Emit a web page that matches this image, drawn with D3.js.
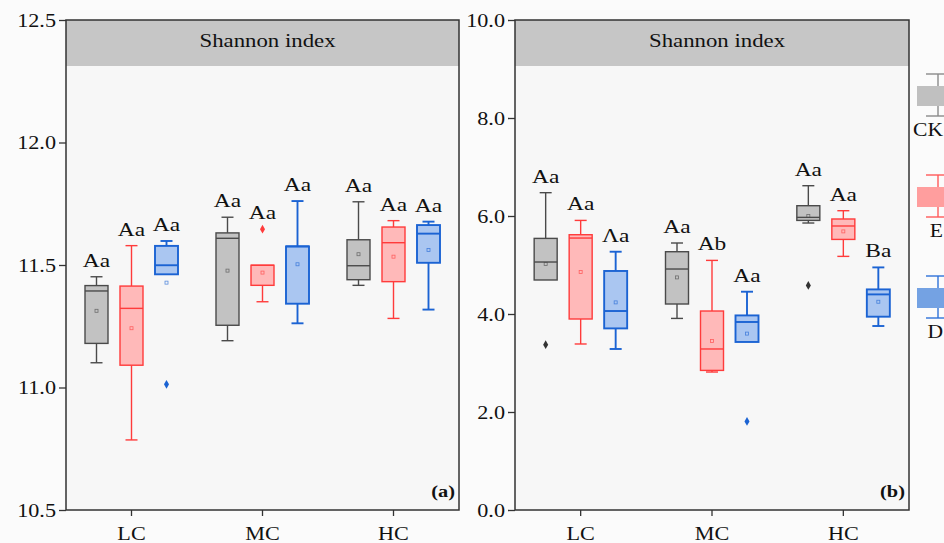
<!DOCTYPE html>
<html>
<head>
<meta charset="utf-8">
<script src="https://cdn.jsdelivr.net/npm/d3@7/dist/d3.min.js"></script>
<style>
  html, body { margin: 0; padding: 0; background: #fbfbfb; }
  svg { display: block; }
  text { font-family: "Liberation Serif", "Times New Roman", serif; fill: #111; }
</style>
</head>
<body>
<svg id="chart" width="944" height="543"></svg>
<script>
// Sites and treatments
const categories = ["LC", "MC", "HC"];
const groups = ["CK", "E", "D"];

// Box statistics per treatment, one entry per site:
// [lower whisker, Q1, median, Q3, upper whisker, mean]
const shannonA_CK = [[11.101, 11.180, 11.394, 11.416, 11.452, 11.313],
                     [11.191, 11.254, 11.609, 11.631, 11.695, 11.477],
                     [11.417, 11.440, 11.497, 11.603, 11.758, 11.544]];
const shannonA_E  = [[10.786, 11.091, 11.323, 11.414, 11.579, 11.242],
                     [11.350, 11.417, 11.499, 11.499, 11.499, 11.469],
                     [11.282, 11.432, 11.591, 11.655, 11.681, 11.534]];
const shannonA_D  = [[11.462, 11.462, 11.499, 11.578, 11.598, 11.428],
                     [11.262, 11.342, 11.576, 11.576, 11.761, 11.503],
                     [11.318, 11.509, 11.628, 11.663, 11.677, 11.561]];
// Outliers: [site, treatment, value]
const outliersA = [["LC", "D", 11.013], ["MC", "E", 11.646]];
const lettersA_CK = ["Aa", "Aa", "Aa"];
const lettersA_E  = ["Aa", "Aa", "Aa"];
const lettersA_D  = ["Aa", "Aa", "Aa"];

const shannonB_CK = [[4.694, 4.694, 5.061, 5.543, 6.476, 5.020],
                     [3.910, 4.204, 4.918, 5.271, 5.449, 4.747],
                     [5.857, 5.910, 5.972, 6.210, 6.618, 6.000]];
const shannonB_E  = [[3.388, 3.898, 5.550, 5.618, 5.910, 4.857],
                     [2.816, 2.849, 3.286, 4.061, 5.094, 3.450],
                     [5.176, 5.522, 5.796, 5.939, 6.108, 5.686]];
const shannonB_D  = [[3.286, 3.706, 4.061, 4.878, 5.271, 4.237],
                     [3.429, 3.429, 3.837, 3.971, 4.455, 3.600],
                     [3.755, 3.945, 4.400, 4.502, 4.951, 4.250]];
const outliersB = [["LC", "CK", 3.373], ["HC", "CK", 4.584], ["MC", "D", 1.808]];
const lettersB_CK = ["Aa", "Aa", "Aa"];
const lettersB_E  = ["Aa", "Ab", "Aa"];
const lettersB_D  = ["Λa", "Aa", "Ba"];

const ticksA = [10.5, 11.0, 11.5, 12.0, 12.5];
const ticksB = [0, 2, 4, 6, 8, 10];

const panelTitle = "Shannon index";

// Styling per treatment
const style = {
  CK: { fill: "#c2c2c2", stroke: "#4a4a4a", legendFill: "#c0c0c0", legendStroke: "#8a8a8a", sw: 1.4 },
  E:  { fill: "#ffb9b9", stroke: "#ff3b3b", legendFill: "#ff9e9e", legendStroke: "#ff5a5a", sw: 1.4 },
  D:  { fill: "#aac6f1", stroke: "#1b63d3", legendFill: "#74a2e3", legendStroke: "#2f72d8", sw: 1.9 }
};
const SX = 1.2; // horizontal text stretch

const svg = d3.select("#chart");

function stretched(g, x, y, str, opts = {}) {
  return g.append("text")
    .attr("transform", `translate(${x},${y}) scale(${SX},1)`)
    .attr("text-anchor", opts.anchor || "middle")
    .attr("font-size", opts.size || 18)
    .attr("font-weight", opts.weight || "normal")
    .text(str);
}

function drawPanel(cfg) {
  const g = svg.append("g");
  const x = d3.scaleBand().domain(categories).range([cfg.x0, cfg.x1]);
  const off = d3.scalePoint().domain(groups).range([-35, 35]);
  const y = d3.scaleLinear().domain(cfg.domain).range([510, 20]);
  const boxW = 23, capW = 12;

  // plot background
  g.append("rect").attr("x", cfg.x0).attr("y", 20)
    .attr("width", cfg.x1 - cfg.x0).attr("height", 490).attr("fill", "#f7f7f7");
  // header strip
  g.append("rect").attr("x", cfg.x0).attr("y", 20)
    .attr("width", cfg.x1 - cfg.x0).attr("height", 46).attr("fill", "#c6c6c6");
  stretched(g, (cfg.x0 + cfg.x1) / 2 + 5, 47, panelTitle, { size: 19 });

  // y axis
  const ya = g.append("g").attr("transform", `translate(${cfg.x0},0)`)
    .call(d3.axisLeft(y).tickValues(cfg.ticks).tickFormat(d3.format(".1f")).tickSize(7));
  ya.select(".domain").remove();
  ya.selectAll("line").attr("stroke", "#333").attr("stroke-width", 1.3);
  ya.selectAll("text")
    .attr("x", null).attr("dy", null)
    .attr("transform", `translate(-10,6) scale(${SX},1)`)
    .attr("font-size", 18.5).attr("font-family", "Liberation Serif, serif").attr("fill", "#111");

  // x axis
  const xa = g.append("g").attr("transform", "translate(0,510)")
    .call(d3.axisBottom(x).tickSize(6));
  xa.select(".domain").remove();
  xa.selectAll("line").attr("stroke", "#333").attr("stroke-width", 1.3);
  xa.selectAll("text")
    .attr("y", null).attr("dy", null)
    .attr("transform", `translate(0,30) scale(${SX},1)`)
    .attr("font-size", 18.5).attr("font-family", "Liberation Serif, serif").attr("fill", "#111");

  // boxes
  groups.forEach(grp => {
    const st = style[grp];
    cfg.stats[grp].forEach((s, i) => {
      const cat = categories[i];
      const cx = x(cat) + x.bandwidth() / 2 + off(grp);
      const [lo, q1, med, q3, hi, mean] = s;
      const bg = g.append("g").attr("stroke", st.stroke).attr("stroke-width", st.sw);
      // whiskers
      bg.append("line").attr("x1", cx).attr("x2", cx).attr("y1", y(hi)).attr("y2", y(q3));
      bg.append("line").attr("x1", cx).attr("x2", cx).attr("y1", y(q1)).attr("y2", y(lo));
      if (hi > q3) bg.append("line").attr("x1", cx - capW / 2).attr("x2", cx + capW / 2).attr("y1", y(hi)).attr("y2", y(hi));
      if (lo < q1) bg.append("line").attr("x1", cx - capW / 2).attr("x2", cx + capW / 2).attr("y1", y(lo)).attr("y2", y(lo));
      // box
      bg.append("rect").attr("x", cx - boxW / 2).attr("y", y(q3))
        .attr("width", boxW).attr("height", Math.max(1, y(q1) - y(q3)))
        .attr("fill", st.fill);
      bg.append("line").attr("x1", cx - boxW / 2).attr("x2", cx + boxW / 2).attr("y1", y(med)).attr("y2", y(med));
      // mean marker
      bg.append("rect").attr("x", cx - 1.5).attr("y", y(mean) - 1.5).attr("width", 3).attr("height", 3)
        .attr("fill", "none").attr("stroke-width", 0.8).attr("opacity", 0.7);

      // outliers for this box
      const outs = cfg.outliers.filter(o => o[0] === cat && o[1] === grp).map(o => o[2]);
      outs.forEach(v => {
        g.append("path").attr("d", d3.symbol(d3.symbolDiamond, 22)())
          .attr("transform", `translate(${cx},${y(v)})`)
          .attr("fill", grp === "CK" ? "#333" : st.stroke);
      });

      // significance letters
      const top = d3.max([hi, ...outs]);
      stretched(g, cx, y(top) - 10, cfg.letters[grp][i], { size: 19.5 });
    });
  });

  // frame
  g.append("rect").attr("x", cfg.x0).attr("y", 20)
    .attr("width", cfg.x1 - cfg.x0).attr("height", 490)
    .attr("fill", "none").attr("stroke", "#333").attr("stroke-width", 1.5);

  // panel tag
  stretched(g, cfg.x1 - 4, 497, cfg.tag, { size: 17, anchor: "end", weight: "bold" });
}

drawPanel({
  x0: 66, x1: 459, domain: [10.5, 12.5], ticks: ticksA, tag: "(a)",
  stats: { CK: shannonA_CK, E: shannonA_E, D: shannonA_D },
  letters: { CK: lettersA_CK, E: lettersA_E, D: lettersA_D },
  outliers: outliersA
});
drawPanel({
  x0: 515, x1: 909, domain: [0, 10], ticks: ticksB, tag: "(b)",
  stats: { CK: shannonB_CK, E: shannonB_E, D: shannonB_D },
  letters: { CK: lettersB_CK, E: lettersB_E, D: lettersB_D },
  outliers: outliersB
});

// legend
const legendY = d3.scalePoint().domain(groups).range([96, 298]);
const lg = svg.append("g");
groups.forEach(grp => {
  const st = style[grp];
  const cx = 938, cy = legendY(grp);
  const e = lg.append("g").attr("stroke", st.legendStroke).attr("stroke-width", 1.4);
  e.append("line").attr("x1", cx).attr("x2", cx).attr("y1", cy - 22).attr("y2", cy + 20);
  e.append("line").attr("x1", cx - 12).attr("x2", cx + 12).attr("y1", cy - 22).attr("y2", cy - 22);
  e.append("line").attr("x1", cx - 12).attr("x2", cx + 12).attr("y1", cy + 20).attr("y2", cy + 20);
  e.append("rect").attr("x", cx - 21).attr("y", cy - 10).attr("width", 42).attr("height", 20)
    .attr("fill", st.legendFill).attr("stroke", "none");
  // labels kept inside the page edge
  stretched(lg, 943, cy + 40, grp, { size: 18, anchor: "end" });
});
</script>
</body>
</html>
